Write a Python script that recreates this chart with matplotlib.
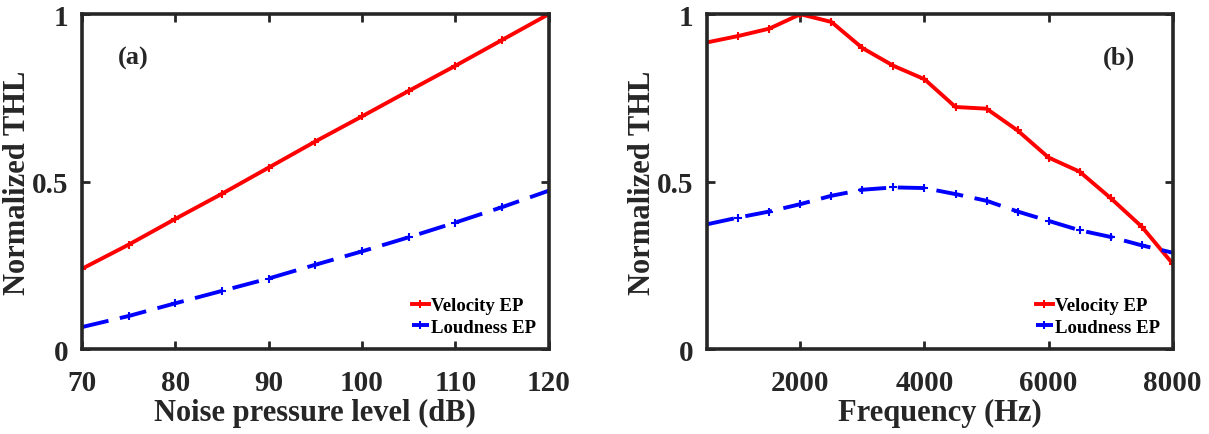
import numpy as np
import matplotlib
matplotlib.use("Agg")
import matplotlib.pyplot as plt

# %% data
noise_db = [70, 75, 80, 85, 90, 95, 100, 105, 110, 115, 120]
noise_velocity = [0.240, 0.312, 0.389, 0.464, 0.542, 0.620, 0.695, 0.771, 0.846, 0.923, 1.0]
noise_loudness = [0.066, 0.099, 0.137, 0.174, 0.211, 0.252, 0.292, 0.334, 0.378, 0.424, 0.473]

freq_hz = [500, 1000, 1500, 2000, 2500, 3000, 3500, 4000,
           4500, 5000, 5500, 6000, 6500, 7000, 7500, 8000]
freq_velocity = [0.916, 0.935, 0.957, 1.0, 0.977, 0.899, 0.846, 0.806,
                 0.723, 0.718, 0.653, 0.572, 0.530, 0.451, 0.366, 0.255]
freq_loudness = [0.373, 0.393, 0.411, 0.433, 0.458, 0.476, 0.483, 0.481,
                 0.463, 0.443, 0.411, 0.383, 0.355, 0.335, 0.310, 0.288]

noise_ticks = [70, 80, 90, 100, 110, 120]
freq_ticks = [2000, 4000, 6000, 8000]
y_ticks = [0, 0.5, 1]
y_ticklabels = ["0", "0.5", "1"]

# %% style
plt.rcParams["font.family"] = ["Liberation Serif", "DejaVu Serif"]
plt.rcParams["font.weight"] = "bold"
dark = "#262626"

fig = plt.figure(figsize=(12.09, 4.35), dpi=100)
ax1 = fig.add_axes([0.0678, 0.195, 0.386, 0.770])
ax2 = fig.add_axes([0.585, 0.195, 0.385, 0.770])


def style_axes(ax, x, vel, loud, xticks, xlabel, tag, tag_x):
    ax.plot(x, vel, color="red", lw=2.8, marker="+", ms=6, mew=1.5,
            label="Velocity EP")
    ax.plot(x, loud, color="blue", lw=2.8, marker="+", ms=6, mew=1.5,
            dashes=(7, 3), label="Loudness EP")
    ax.set_xlim(x[0], x[-1])
    ax.set_ylim(0, 1)
    ax.set_xticks(xticks)
    ax.set_yticks(y_ticks)
    ax.set_yticklabels(y_ticklabels)
    ax.tick_params(direction="in", top=True, right=True, length=6, width=2,
                   color=dark, labelsize=21)
    ax.tick_params(axis="x", pad=14)
    ax.tick_params(axis="y", pad=10)
    for lab in ax.get_xticklabels() + ax.get_yticklabels():
        lab.set_fontweight("bold")
        lab.set_color(dark)
    for sp in ax.spines.values():
        sp.set_linewidth(2.6)
        sp.set_color(dark)
    ax.set_xlabel(xlabel, fontsize=22, fontweight="bold", color=dark, labelpad=2)
    ax.set_ylabel("Normalized THL", fontsize=22, fontweight="bold", color=dark,
                  labelpad=0)
    ax.text(tag_x, 0.87, tag, transform=ax.transAxes, fontsize=19,
            fontweight="bold", color=dark, ha="center", va="center")
    leg = ax.legend(loc="lower right", frameon=False, fontsize=13.5,
                    handlelength=0.9, handletextpad=0.1, labelspacing=0.25,
                    borderaxespad=0.3)
    for t in leg.get_texts():
        t.set_fontweight("bold")


style_axes(ax1, noise_db, noise_velocity, noise_loudness, noise_ticks,
           "Noise pressure level (dB)", "(a)", 0.11)
style_axes(ax2, freq_hz, freq_velocity, freq_loudness, freq_ticks,
           "Frequency (Hz)", "(b)", 0.885)

fig.savefig("out.png", dpi=100)
